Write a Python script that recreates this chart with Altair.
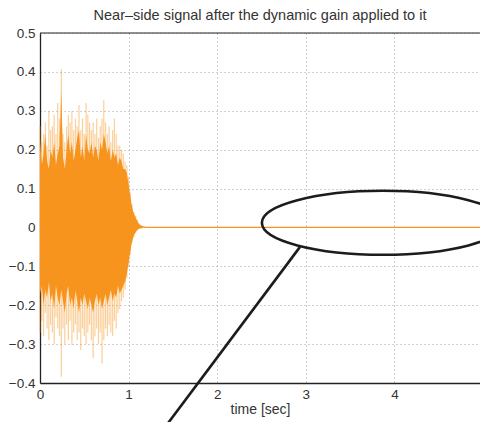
import altair as alt
import pandas as pd

# time bins (s)
t = [0.00, 0.02, 0.04, 0.06, 0.08, 0.10, 0.12, 0.14, 0.16, 0.18,
     0.20, 0.22, 0.24, 0.26, 0.28, 0.30, 0.32, 0.34, 0.36, 0.38,
     0.40, 0.42, 0.44, 0.46, 0.48, 0.50, 0.52, 0.54, 0.56, 0.58,
     0.60, 0.62, 0.64, 0.66, 0.68, 0.70, 0.72, 0.74, 0.76, 0.78,
     0.80, 0.82, 0.84, 0.86, 0.88, 0.90, 0.92, 0.94, 0.96, 0.98,
     1.00, 1.02, 1.04, 1.06, 1.08, 1.10, 1.12, 1.14, 1.16, 1.18, 1.20]

# dense (solid) envelope of the signal
upper_core = [0.23, 0.16, 0.19, 0.24, 0.17, 0.15, 0.20, 0.18, 0.22, 0.16,
              0.19, 0.21, 0.35, 0.18, 0.15, 0.20, 0.24, 0.19, 0.22, 0.17,
              0.20, 0.23, 0.25, 0.18, 0.21, 0.17, 0.24, 0.20, 0.19, 0.22,
              0.18, 0.21, 0.20, 0.17, 0.22, 0.20, 0.24, 0.22, 0.19, 0.21,
              0.17, 0.20, 0.18, 0.19, 0.16, 0.18, 0.17, 0.15, 0.15, 0.14,
              0.11, 0.08, 0.05, 0.035, 0.025, 0.015, 0.008, 0.005, 0.003, 0.002, 0.002]
lower_core = [-0.17, -0.15, -0.20, -0.16, -0.18, -0.14, -0.19, -0.17, -0.21, -0.15,
              -0.18, -0.20, -0.16, -0.19, -0.22, -0.17, -0.15, -0.20, -0.18, -0.21,
              -0.16, -0.19, -0.22, -0.18, -0.20, -0.17, -0.19, -0.21, -0.18, -0.20,
              -0.22, -0.19, -0.17, -0.20, -0.18, -0.21, -0.19, -0.17, -0.20, -0.18,
              -0.16, -0.19, -0.17, -0.18, -0.15, -0.17, -0.16, -0.15, -0.14, -0.12,
              -0.09, -0.06, -0.035, -0.02, -0.012, -0.006, -0.003, -0.002, -0.001, -0.001, -0.001]
# sparse peaks of the signal
upper_peak = [0.26, 0.22, 0.24, 0.27, 0.21, 0.30, 0.25, 0.26, 0.29, 0.24,
              0.32, 0.28, 0.407, 0.24, 0.22, 0.26, 0.29, 0.27, 0.30, 0.25,
              0.28, 0.26, 0.315, 0.25, 0.28, 0.24, 0.32, 0.29, 0.27, 0.25,
              0.27, 0.24, 0.28, 0.23, 0.26, 0.28, 0.328, 0.27, 0.24, 0.26,
              0.22, 0.25, 0.28, 0.24, 0.21, 0.21, 0.20, 0.19, 0.17, 0.16,
              0.13, 0.09, 0.06, 0.04, 0.03, 0.02, 0.01, 0.006, 0.004, 0.003, 0.002]
lower_peak = [-0.27, -0.24, -0.28, -0.22, -0.26, -0.29, -0.25, -0.27, -0.30, -0.23,
              -0.26, -0.28, -0.384, -0.26, -0.30, -0.25, -0.29, -0.24, -0.302, -0.27,
              -0.25, -0.29, -0.27, -0.315, -0.26, -0.28, -0.30, -0.27, -0.25, -0.29,
              -0.336, -0.28, -0.26, -0.30, -0.27, -0.349, -0.29, -0.26, -0.28, -0.25,
              -0.27, -0.28, -0.24, -0.26, -0.22, -0.21, -0.19, -0.18, -0.16, -0.13,
              -0.10, -0.07, -0.04, -0.025, -0.015, -0.008, -0.004, -0.003, -0.002, -0.001, -0.001]

# flat tail after the gain clamps the signal
tail_start = [1.20]
tail_end = [5.0]
tail_level = [0.0]

x_ticks = [0, 1, 2, 3, 4]
y_ticks = [-0.4, -0.3, -0.2, -0.1, 0.0, 0.1, 0.2, 0.3, 0.4, 0.5]
x_domain = [0, 4.966]
y_domain = [-0.4, 0.5]

# annotation: ellipse around the quiet tail and a pointer line
ellipse_center_x = [3.87]
ellipse_center_y = [0.012]
pointer_x = [2.935]
pointer_y = [-0.050]
pointer_x2 = [1.39]
pointer_y2 = [-0.52]

ORANGE = "#F7941D"
FONT = "Liberation Sans"

sig = pd.DataFrame({"t": t, "uc": upper_core, "lc": lower_core,
                    "up": upper_peak, "lp": lower_peak})

xs = alt.Scale(domain=x_domain, nice=False, zero=False)
ys = alt.Scale(domain=y_domain, nice=False, zero=False)

x_axis = alt.Axis(values=x_ticks, grid=True, title="time [sec]", labelFlush=False,
                  labelOverlap=False, format="d")
y_axis = alt.Axis(values=y_ticks, grid=True, title=None, format=".1~f",
                  labelOverlap=False, labelFlush=False)


def X(field):
    return alt.X(field, type="quantitative", scale=xs, axis=x_axis)


def Y(field):
    return alt.Y(field, type="quantitative", scale=ys, axis=y_axis)


peaks = alt.Chart(sig).mark_rule(color=ORANGE, opacity=0.45, strokeWidth=1.2).encode(
    x=X("t"), y=Y("lp"), y2="up:Q")

core = alt.Chart(sig).mark_area(color=ORANGE, opacity=1).encode(
    x=X("t"), y=Y("lc"), y2="uc:Q")

tail = alt.Chart(pd.DataFrame({"a": tail_start, "b": tail_end, "v": tail_level})).mark_rule(
    color=ORANGE, strokeWidth=1.3).encode(x=X("a"), x2="b:Q", y=Y("v"))

border = alt.Chart(pd.DataFrame({"a": [x_domain[0]], "b": [x_domain[1]], "v": [y_domain[1]]})).mark_rule(
    color="#222", strokeWidth=1).encode(x=X("a"), x2="b:Q", y=Y("v"))

k = 0.2645
c = 0.5523
ell_path = (f"M -1 0 C -1 {-c*k:.4f} {-c:.4f} {-k} 0 {-k} "
            f"C {c:.4f} {-k} 1 {-c*k:.4f} 1 0 "
            f"C 1 {c*k:.4f} {c:.4f} {k} 0 {k} "
            f"C {-c:.4f} {k} -1 {c*k:.4f} -1 0 Z")

ellipse = alt.Chart(pd.DataFrame({"x": ellipse_center_x, "y": ellipse_center_y})).mark_point(
    shape=ell_path, filled=False, color="#1c1c1c", strokeWidth=2.6, size=58564, opacity=1).encode(
    x=X("x"), y=Y("y"))

pointer = alt.Chart(pd.DataFrame({"x": pointer_x, "y": pointer_y,
                                  "x2": pointer_x2, "y2": pointer_y2})).mark_rule(
    color="#1c1c1c", strokeWidth=2.6).encode(
    x=X("x"), y=Y("y"), x2="x2:Q", y2="y2:Q")

chart = alt.layer(peaks, core, tail, border, ellipse, pointer).properties(
    width=440, height=350,
    title=alt.TitleParams("Near\u2013side signal after the dynamic gain applied to it",
                          font=FONT, fontSize=14.5, fontWeight="normal", color="#333",
                          offset=3),
    autosize=alt.AutoSizeParams(type="none"),
    padding={"left": 40, "top": 33, "right": 0, "bottom": 39},
).configure_view(stroke=None).configure_axis(
    labelFont=FONT, labelFontSize=13.5, labelColor="#333",
    titleFont=FONT, titleFontSize=14, titleFontWeight="normal", titleColor="#333",
    domainColor="#222", domainWidth=1.3, ticks=False,
    gridColor="#999", gridDash=[1, 3], gridWidth=1, gridOpacity=0.9,
).configure_axisX(labelPadding=4, titlePadding=2).configure_axisY(labelPadding=5)

chart.save("out.html", embed_options={"renderer": "svg", "actions": False})
